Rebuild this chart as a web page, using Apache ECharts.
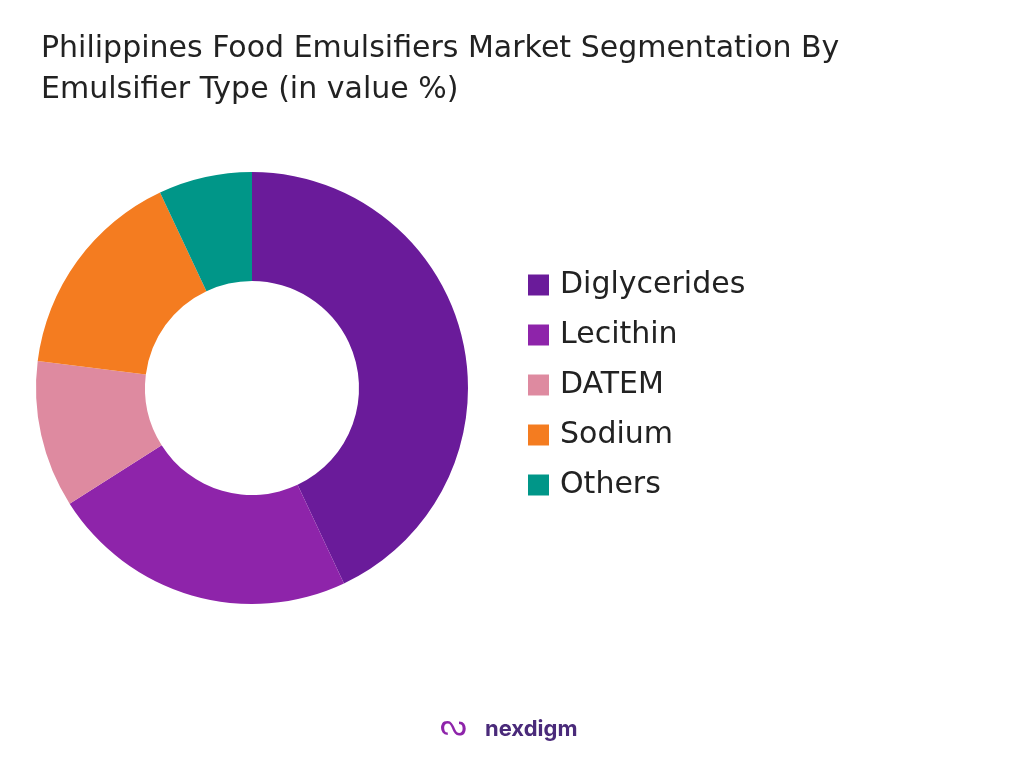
<!DOCTYPE html>
<html><head><meta charset="utf-8">
<script src="https://cdn.jsdelivr.net/npm/echarts@6/dist/echarts.min.js"></script>
<style>html,body{margin:0;padding:0;background:#fff}#c{width:1024px;height:768px}</style>
</head><body><div id="c"></div>
<script>
const categories = ["Diglycerides","Lecithin","DATEM","Sodium","Others"];
const values = [43, 23, 11, 16, 7];
const colors = ["#6a1b9a","#8e24aa","#de8aa0","#f47c20","#009688"];
const chart = echarts.init(document.getElementById('c'));
chart.setOption({
  animation:false,
  title:{text:"Philippines Food Emulsifiers Market Segmentation By\nEmulsifier Type (in value %)",left:36,top:24,
    textStyle:{fontFamily:"DejaVu Sans",fontWeight:"normal",fontSize:30,color:"#222",lineHeight:41}},
  legend:{orient:"vertical",left:523,top:265,itemWidth:21,itemHeight:21,itemGap:20,icon:"rect",
    textStyle:{fontFamily:"DejaVu Sans",fontSize:30,color:"#222",padding:[0,0,0,6]},data:categories},
  graphic:[{type:"text",left:485,top:718,style:{text:"nexdigm",fontFamily:"Inter",fontWeight:"bold",fontSize:22,fill:"#4a2a7a"}},
           {type:"text",left:440,top:712,style:{text:"ᔓ",fontSize:30,fill:"#8e24aa"}}],
  series:[{type:"pie",center:[252,388],radius:[107,216],startAngle:90,clockwise:true,label:{show:false},
    itemStyle:{borderWidth:0},
    data:categories.map((n,i)=>({name:n,value:values[i],itemStyle:{color:colors[i]}}))}]
});
</script></body></html>
